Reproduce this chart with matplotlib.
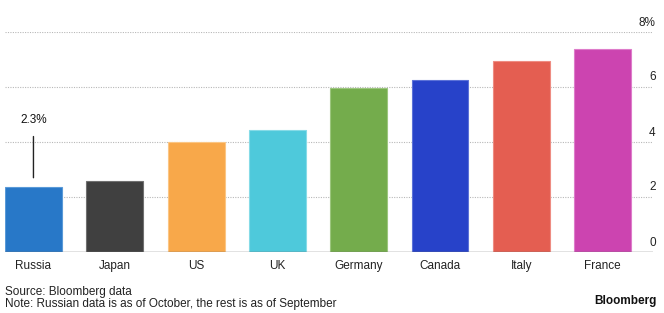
import matplotlib.pyplot as plt
import matplotlib.transforms as mtransforms

plt.rcParams['font.family'] = ['Liberation Sans', 'DejaVu Sans']

countries = ['Russia', 'Japan', 'US', 'UK', 'Germany', 'Canada', 'Italy', 'France']
values = [2.35, 2.6, 4.0, 4.45, 5.95, 6.25, 6.95, 7.4]
colors = ['#2878c8', '#404040', '#f8a84a', '#4ec9db', '#74ac4c', '#2742c9', '#e45e51', '#cc44b0']
edge_colors = ['#5a9ad8', '#707070', '#fbc684', '#86dbe7', '#9cc67e', '#5c72d8', '#ee8c82', '#de7cca']
y_ticks = [0, 2, 4, 6, 8]
y_tick_labels = ['0', '2', '4', '6', '8%']
callout_text = '2.3%'

fs = 8.5

fig = plt.figure(figsize=(6.64, 3.13), dpi=100)
ax = fig.add_axes([5 / 664, 61 / 313, 648 / 664, 220 / 313])

x = range(len(countries))
ax.bar(x, values, width=0.7, color=colors, edgecolor=edge_colors, linewidth=0.8, zorder=3)

ax.set_xlim(-0.35, 7.62)
ax.set_ylim(0, 8)

# dotted grid, solid baseline
for v in y_ticks[1:]:
    ax.axhline(v, color='#b8b8b8', linestyle=(0, (1, 1.2)), linewidth=0.8, zorder=1)
ax.axhline(0, color='#707070', linewidth=1.0, zorder=4)

for side in ['top', 'right', 'left', 'bottom']:
    ax.spines[side].set_visible(False)

ax.set_xticks(list(x))
ax.set_xticklabels(countries, fontsize=fs, color='#222222')
ax.tick_params(axis='x', length=0, pad=6)

ax.yaxis.tick_right()
ax.set_yticks(y_ticks)
ax.set_yticklabels(y_tick_labels, fontsize=fs, color='#222222')
ax.tick_params(axis='y', length=0, pad=2)
offset = mtransforms.ScaledTranslation(0, 11 / 100, fig.dpi_scale_trans)
for lab in ax.get_yticklabels():
    lab.set_horizontalalignment('right')
    lab.set_transform(lab.get_transform() + offset)

# callout on Russia
ax.annotate('', xy=(0, values[0] + 0.25), xytext=(0, values[0] + 1.95),
            arrowprops=dict(arrowstyle='-', color='#222222', lw=1.0), zorder=5)
ax.text(0, values[0] + 2.45, callout_text, ha='center', va='center', fontsize=fs, color='#111111')

fig.text(5 / 664, 1 - 292 / 313, 'Source: Bloomberg data', fontsize=fs, va='center', color='#222222')
fig.text(5 / 664, 1 - 304 / 313, 'Note: Russian data is as of October, the rest is as of September',
         fontsize=fs, va='center', color='#222222')
fig.text(657 / 664, 1 - 301 / 313, 'Bloomberg', fontsize=fs, fontweight='bold', ha='right', va='center', color='#111111')

fig.savefig('out.png', dpi=100)
